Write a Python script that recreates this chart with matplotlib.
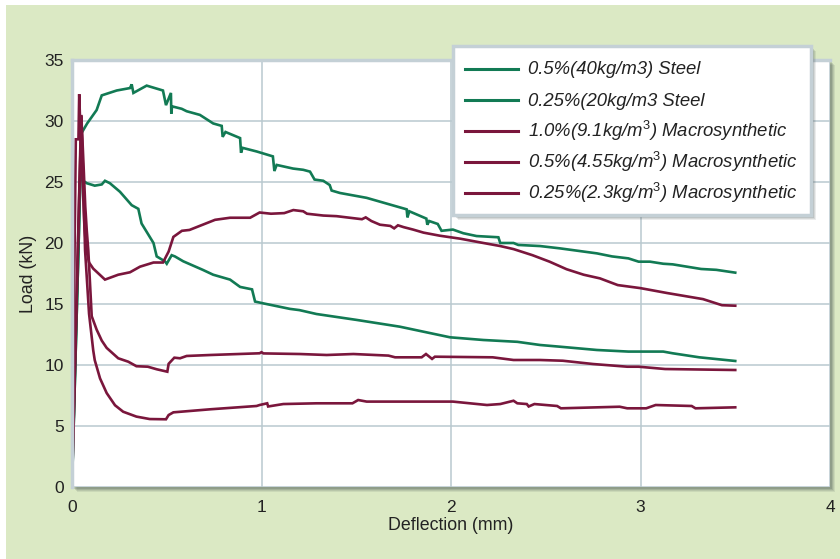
import matplotlib.pyplot as plt
from matplotlib.patches import Rectangle
from matplotlib.lines import Line2D

plt.rcParams['font.family'] = ['Liberation Sans', 'DejaVu Sans']
plt.rcParams['mathtext.fontset'] = 'custom'
plt.rcParams['mathtext.rm'] = 'Liberation Sans'
plt.rcParams['mathtext.it'] = 'Liberation Sans:italic'

GREEN = '#127a54'
MAROON = '#7a163c'
GRID = '#b9c9cf'
PANEL = '#dbe9c4'
FRAME = '#c4d0d6'
SHADOW = '#3c4a4a'

# load-deflection curves
steel_40_x = [0, 0.035, 0.05, 0.08, 0.13, 0.157, 0.236, 0.306, 0.315, 0.324, 0.394, 0.48, 0.496,
              0.522, 0.524, 0.528, 0.579, 0.605, 0.675, 0.745, 0.79, 0.795, 0.81, 0.887, 0.892,
              0.90, 0.975, 1.06, 1.068, 1.08, 1.167, 1.22, 1.256, 1.28, 1.326, 1.36, 1.37, 1.414,
              1.555, 1.766, 1.770, 1.78, 1.87, 1.875, 1.885, 1.93, 1.95, 2.01, 2.065, 2.135, 2.25,
              2.26, 2.33, 2.355, 2.47, 2.575, 2.77, 2.85, 2.936, 2.99, 3.05, 3.12, 3.17, 3.32,
              3.4, 3.5]
steel_40_y = [0, 20, 29.0, 29.8, 30.9, 32.1, 32.5, 32.7, 33.0, 32.3, 32.9, 32.5, 31.3,
              32.3, 30.6, 31.2, 31.0, 30.8, 30.5, 29.8, 29.6, 28.7, 29.1, 28.6, 27.4,
              27.8, 27.5, 27.1, 25.9, 26.4, 26.1, 26.0, 25.85, 25.2, 25.1, 24.75, 24.3, 24.1,
              23.7, 22.76, 22.1, 22.6, 22.0, 21.5, 21.8, 21.56, 21.0, 21.1, 20.8, 20.57, 20.47,
              20.0, 20.0, 19.84, 19.75, 19.56, 19.15, 18.9, 18.74, 18.47, 18.47, 18.3, 18.25, 17.87,
              17.8, 17.57]

steel_20_x = [0, 0.035, 0.045, 0.05, 0.078, 0.12, 0.157, 0.174, 0.2, 0.253, 0.315, 0.35, 0.367,
              0.43, 0.447, 0.49, 0.5, 0.526, 0.543, 0.587, 0.69, 0.745, 0.834, 0.887, 0.95,
              0.966, 1.01, 1.15, 1.2, 1.29, 1.5, 1.73, 1.87, 1.995, 2.17, 2.35, 2.47, 2.575,
              2.77, 2.936, 3.12, 3.17, 3.31, 3.5]
steel_20_y = [0, 20, 26.2, 25.2, 24.9, 24.7, 24.8, 25.1, 24.9, 24.2, 23.1, 22.8, 21.6,
              20.0, 18.9, 18.5, 18.3, 19.0, 18.9, 18.5, 17.8, 17.4, 17.0, 16.4, 16.2,
              15.2, 15.05, 14.6, 14.5, 14.18, 13.7, 13.14, 12.68, 12.27, 12.05, 11.9, 11.64, 11.5,
              11.23, 11.1, 11.1, 10.96, 10.63, 10.33]

macro_91_x = [0, 0.02, 0.034, 0.038, 0.045, 0.055, 0.065, 0.075, 0.09, 0.112, 0.174, 0.244,
              0.306, 0.359, 0.43, 0.48, 0.51, 0.535, 0.58, 0.62, 0.69, 0.755, 0.834, 0.94, 0.99,
              1.05, 1.12, 1.168, 1.22, 1.24, 1.326, 1.396, 1.53, 1.55, 1.58, 1.625, 1.68, 1.7,
              1.72, 1.75, 1.8, 1.855, 1.94, 2.05, 2.15, 2.26, 2.33, 2.43, 2.52, 2.61, 2.7, 2.786,
              2.88, 3.0, 3.14, 3.33, 3.43, 3.5]
macro_91_y = [0, 28.5, 28.5, 32.2, 29.0, 25.5, 21.5, 19.5, 18.4, 17.9, 17.0, 17.4,
              17.6, 18.06, 18.4, 18.4, 19.3, 20.5, 21.0, 21.07, 21.5, 21.9, 22.07, 22.07, 22.5,
              22.4, 22.45, 22.7, 22.6, 22.4, 22.25, 22.2, 21.95, 22.1, 21.8, 21.5, 21.4, 21.2,
              21.45, 21.3, 21.1, 20.85, 20.6, 20.35, 20.06, 19.75, 19.5, 19.0, 18.47, 17.85, 17.4, 17.1,
              16.55, 16.3, 15.9, 15.4, 14.9, 14.86]

macro_455_x = [0, 0.048, 0.055, 0.062, 0.07, 0.078, 0.086, 0.104, 0.13, 0.157, 0.183, 0.244,
               0.297, 0.34, 0.4, 0.447, 0.503, 0.51, 0.54, 0.57, 0.605, 0.73, 0.99, 1.0, 1.01,
               1.203, 1.344, 1.485, 1.67, 1.705, 1.845, 1.868, 1.9, 1.915, 2.22, 2.33, 2.47,
               2.59, 2.75, 2.93, 2.99, 3.13, 3.5]
macro_455_y = [0, 30.4, 28.5, 26.0, 23.0, 21.0, 19.4, 14.0, 12.9, 12.0, 11.4, 10.55,
               10.27, 9.9, 9.86, 9.65, 9.45, 10.1, 10.6, 10.55, 10.74, 10.82, 10.96, 11.05, 10.95,
               10.9, 10.82, 10.9, 10.77, 10.63, 10.63, 10.9, 10.5, 10.68, 10.63, 10.41, 10.41,
               10.35, 10.08, 9.86, 9.86, 9.67, 9.59]

macro_23_x = [0, 0.04, 0.05, 0.058, 0.069, 0.09, 0.112, 0.12, 0.148, 0.183, 0.227, 0.27, 0.34,
              0.41, 0.496, 0.51, 0.535, 0.73, 0.974, 0.99, 1.03, 1.035, 1.115, 1.29, 1.48, 1.51,
              1.555, 1.73, 2.01, 2.19, 2.26, 2.33, 2.35, 2.4, 2.41, 2.44, 2.5, 2.56, 2.58, 2.89,
              2.93, 3.03, 3.08, 3.27, 3.29, 3.5]
macro_23_y = [0, 25.0, 30.5, 25.8, 19.4, 14.2, 11.2, 10.4, 8.9, 7.7, 6.7, 6.17, 5.77,
              5.57, 5.55, 5.9, 6.12, 6.37, 6.64, 6.72, 6.86, 6.6, 6.8, 6.86, 6.86, 7.13,
              7.0, 7.0, 7.0, 6.72, 6.8, 7.07, 6.86, 6.8, 6.6, 6.8, 6.72, 6.64, 6.45, 6.58,
              6.45, 6.45, 6.72, 6.64, 6.45, 6.53]

labels = ['0.5%(40kg/m3) Steel',
          '0.25%(20kg/m3 Steel',
          r'1.0%(9.1kg/m$^{\mathit{3}}$) Macrosynthetic',
          r'0.5%(4.55kg/m$^{\mathit{3}}$) Macrosynthetic',
          r'0.25%(2.3kg/m$^{\mathit{3}}$) Macrosynthetic']

W, H = 840, 559
fig = plt.figure(figsize=(W / 100, H / 100), dpi=100, facecolor='white')


def fx(px):
    return px / W


def fy(py):
    return 1 - py / H


def shadowed_box(x0, y0, x1, y1, z):
    # layered offsets give a soft shadow to the lower right
    for i, a in enumerate([0.10, 0.12, 0.16, 0.20]):
        off = 5 - i
        fig.patches.append(Rectangle((fx(x0 + off), fy(y1 + off)), fx(x1 - x0), (y1 - y0) / H,
                                     transform=fig.transFigure, facecolor=SHADOW,
                                     edgecolor='none', alpha=a, zorder=z))


# green panel behind everything
fig.patches.append(Rectangle((fx(6), 0), 1, fy(5), transform=fig.transFigure,
                             facecolor=PANEL, edgecolor='none', zorder=-10))

left, right, top, bottom = 72, 830, 60, 487
shadowed_box(left, top, right, bottom, -5)

ax = fig.add_axes([fx(left), fy(bottom), fx(right - left), (bottom - top) / H])
ax.set_facecolor('white')

series = [(steel_40_x, steel_40_y, GREEN),
          (steel_20_x, steel_20_y, GREEN),
          (macro_91_x, macro_91_y, MAROON),
          (macro_455_x, macro_455_y, MAROON),
          (macro_23_x, macro_23_y, MAROON)]
for xs, ys, c in series:
    ax.plot(xs, ys, color=c, lw=1.9, solid_joinstyle='miter')

ax.set_xlim(0, 4)
ax.set_ylim(0, 35)
ax.set_xticks([0, 1, 2, 3, 4])
ax.set_yticks(range(0, 36, 5))
ax.grid(True, color=GRID, lw=1.1)
ax.set_axisbelow(True)
ax.tick_params(length=0, labelsize=12.5, colors='#222222')
ax.tick_params(axis='x', pad=9)
ax.tick_params(axis='y', pad=6)
for side in ['right', 'bottom']:
    ax.spines[side].set_visible(False)
for side in ['left', 'top']:
    ax.spines[side].set_color(FRAME)
    ax.spines[side].set_linewidth(2.5)

ax.set_xlabel('Deflection (mm)', fontsize=12.8, color='#222222', labelpad=2)
ax.set_ylabel('Load (kN)', fontsize=12.8, color='#222222', labelpad=5)

# legend box, drawn on the figure above the axes
lx0, ly0, lx1, ly1 = 453, 46, 811, 215
shadowed_box(lx0, ly0, lx1, ly1, 20)
fig.patches.append(Rectangle((fx(lx0), fy(ly1)), fx(lx1 - lx0), (ly1 - ly0) / H,
                             transform=fig.transFigure, facecolor='white',
                             edgecolor=FRAME, lw=2.5, zorder=21))
row_y = 68.5
for (xs, ys, c), lab in zip(series, labels):
    fig.lines.append(Line2D([fx(465), fx(518)], [fy(row_y), fy(row_y)],
                            transform=fig.transFigure, color=c, lw=2.2, zorder=22))
    fig.text(fx(528), fy(row_y + 5.8), lab, fontsize=13.3, style='italic',
             color='#222222', va='baseline', ha='left', zorder=23)
    row_y += 31.2

fig.savefig('out.png', dpi=100)
